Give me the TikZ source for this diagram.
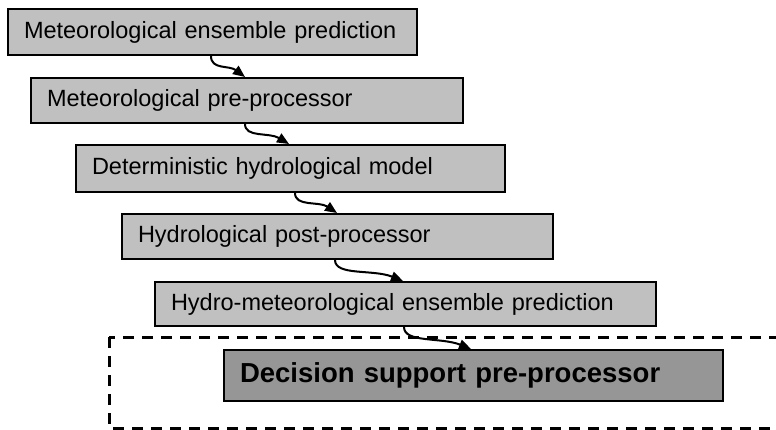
\documentclass[tikz,border=0pt]{standalone}
\usepackage{fontspec}
\setmainfont{Liberation Sans}
\usetikzlibrary{arrows.meta}
\definecolor{boxgrey}{HTML}{C0C0C0}
\definecolor{darkgrey}{HTML}{969696}
\tikzset{
  box/.style={draw=black, line width=2pt, fill=boxgrey, anchor=north west,
    inner xsep=16pt, inner ysep=0pt, align=left,
    font=\fontsize{23.5pt}{28pt}\selectfont},
  boldbox/.style={box, fill=darkgrey, font=\fontsize{27.5pt}{32pt}\selectfont\bfseries},
  arr/.style={line width=2pt, -{Triangle[length=12pt,width=10pt]}},
  frame/.style={line width=3pt, dash pattern=on 11pt off 8pt}
}
\begin{document}
\begin{tikzpicture}[x=1pt,y=-1pt]
\clip (0,0) rectangle (776,429);
\node[box, text width=377pt, minimum height=46pt] (b1) at (7,8) {Meteorological ensemble prediction};
\node[box, text width=400pt, minimum height=45pt] (b2) at (30,77) {Meteorological pre-processor};
\node[box, text width=397pt, minimum height=47pt] (b3) at (75,144) {Deterministic hydrological model};
\node[box, text width=399pt, minimum height=45pt] (b4) at (121,213) {Hydrological post-processor};
\node[box, text width=469pt, minimum height=44pt] (b5) at (154,281) {Hydro-meteorological ensemble prediction};
\node[boldbox, text width=467pt, minimum height=51pt] (b6) at (223,349) {Decision support pre-processor};
\draw[frame] (109,337) rectangle (800,428);
\draw[arr] ([xshift=204pt]b1.south west) .. controls +(0,14) and +(-16,-12) .. ([xshift=215pt]b2.north west);
\draw[arr] ([xshift=215pt]b2.south west) .. controls +(0,14) and +(-20,-12) .. ([xshift=214pt]b3.north west);
\draw[arr] ([xshift=220pt]b3.south west) .. controls +(0,14) and +(-18,-12) .. ([xshift=216pt]b4.north west);
\draw[arr] ([xshift=214pt]b4.south west) .. controls +(0,16) and +(-30,-12) .. ([xshift=249pt]b5.north west);
\draw[arr] ([xshift=250pt]b5.south west) .. controls +(0,16) and +(-30,-12) .. ([xshift=248pt]b6.north west);
\end{tikzpicture}
\end{document}
